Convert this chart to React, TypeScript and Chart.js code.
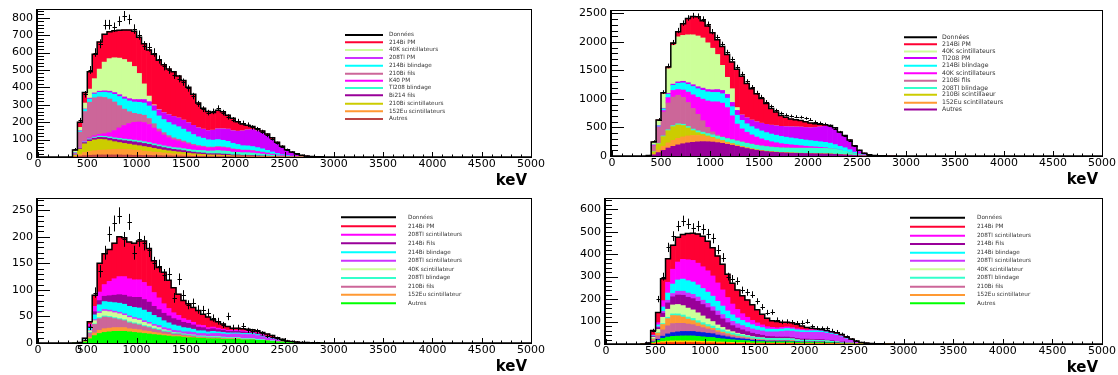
import React, { useEffect, useRef } from "react";
import { Chart, registerables } from "chart.js";

Chart.register(...registerables);

// ---------- binning & axes ----------
const BIN_START = 350; // keV, lower edge of first bin
const BIN_WIDTH = 50; // keV
const X_MAX = 5000;
const X_TICKS = [0, 500, 1000, 1500, 2000, 2500, 3000, 3500, 4000, 4500, 5000];
const P1_Y_TICKS = [0, 100, 200, 300, 400, 500, 600, 700, 800];
const P2_Y_TICKS = [0, 500, 1000, 1500, 2000, 2500];
const P3_Y_TICKS = [0, 50, 100, 150, 200, 250];
const P4_Y_TICKS = [0, 100, 200, 300, 400, 500, 600];

// ---------- colours ----------
const C_RED = "#ff0033";
const C_LGREEN = "#ccff99";
const C_VIOLET = "#cc00ff";
const C_VIOLET2 = "#cc33ff";
const C_CYAN = "#00ffff";
const C_MAGENTA = "#ff00ff";
const C_PINK = "#cc6699";
const C_AQUA = "#33ffcc";
const C_PURPLE = "#990099";
const C_OLIVE = "#cccc00";
const C_ORANGE = "#ff9933";
const C_BROWN = "#bb4444";
const C_GREEN = "#00ff00";
const C_BLUE = "#0022dd";
const C_MISC_RED = "#ff2200";
const C_MISC_YELLOW = "#ffcc00";

// ---------- panel 1 (top left), bins 350-400 ... 2850-2900 keV ----------
const P1_AUTRES = [2,5,8,10,11,12,12,12,12,12, 11,11,10,10,9,9,8,8,7,7, 6,6,5,5,4,4,4,3,3,3, 3,3,2,2,2,2,2,2,1,1, 1,1,0,0,0,0,0,0,0,0, 0];
const P1_EU152 = [3,10,18,22,25,27,28,30,32,33, 33,32,30,28,25,22,20,18,16,14, 12,11,10,8,7,6,5,4,4,4, 3,3,2,2,2,2,1,1,1,1, 0,0,0,0,0,0,0,0,0,0, 0];
const P1_BI210_SCINT = [5,30,50,58,62,63,60,52,44,38, 34,31,29,27,26,25,22,19,17,15, 14,12,11,9,8,7,6,5,5,5, 4,4,3,3,2,2,2,1,1,1, 0,0,0,0,0,0,0,0,0,0, 0];
const P1_BI214_FILS = [1,4,7,9,10,11,12,13,14,15, 16,17,18,18,18,17,16,15,14,13, 12,12,11,10,9,8,8,7,7,7, 7,6,5,5,4,4,4,3,3,2, 2,1,1,0,0,0,0,0,0,0, 0];
const P1_TL208_BLINDAGE = [1,2,4,5,6,7,7,8,8,9, 9,9,10,10,10,10,10,10,10,10, 10,11,11,12,12,13,14,15,16,18, 18,17,16,15,15,15,14,13,11,9, 7,5,3,2,1,1,0,0,0,0, 0];
const P1_K40_PM = [0,2,4,6,8,10,15,25,42,60, 78,92,102,108,110,104,90,75,62,52, 45,40,35,30,26,22,20,18,18,19, 19,18,16,14,13,13,12,11,10,8, 6,4,3,2,1,1,0,0,0,0, 0];
const P1_BI210_FILS = [10,90,170,205,218,215,208,193,164,128, 94,68,52,45,42,34,25,16,14,12, 11,10,9,8,7,6,5,5,4,4, 4,3,3,3,2,2,2,2,1,1, 1,0,0,0,0,0,0,0,0,0, 0];
const P1_BI214_BLINDAGE = [2,6,12,18,22,26,30,36,44,52, 58,62,65,68,70,72,74,75,75,75, 75,72,68,62,56,50,46,42,40,40, 38,36,32,28,25,24,23,21,19,15, 12,9,6,4,3,2,1,1,0,0, 0];
const P1_TL208_PM = [1,2,3,5,6,7,8,9,10,11, 12,13,14,16,20,25,30,35,40,45, 48,50,52,53,53,52,52,53,57,62, 66,70,72,76,85,92,98,96,92,84, 72,58,43,30,20,12,7,4,2,1, 1];
const P1_K40_SCINT = [10,19,34,52,82,127,165,187,200,210, 215,210,190,150,90,32,5,2,1,0, 0,0,0,0,0,0,0,0,0,0, 0,0,0,0,0,0,0,0,0,0, 0,0,0,0,0,0,0,0,0,0, 0];
const P1_BI214_PM = [5,30,60,100,140,155,160,155,155,160, 170,185,202,208,230,265,290,282,274,262, 257,241,228,203,178,142,120,110,101,106, 98,80,71,54,40,26,17,12,11,10, 9,7,6,4,3,2,2,1,1,1, 0];
const P1_DATA = [45,210,360,500,600,650,760,760,745,780, 810,790,735,700,640,630,600,560,520,500, 470,450,430,395,350,305,275,255,262,280, 255,230,215,205,195,185,170,160,145,125, 105,80,60,42,28,18,10,6,3,2, 1];

// ---------- panel 2 (top right) ----------
const P2_AUTRES = [2,20,60,100,140,170,195,215,230,240, 248,252,250,245,235,222,205,188,170,150, 132,115,100,88,78,70,64,58,54,50, 48,46,44,42,40,38,36,34,30,25, 20,15,10,6,3,2,1,1,0,0, 0];
const P2_EU152 = [1,15,45,70,90,105,115,120,122,120, 112,100,85,70,55,42,32,24,18,14, 11,9,7,6,5,4,4,3,3,3, 2,2,2,2,2,1,1,1,1,1, 0,0,0,0,0,0,0,0,0,0, 0];
const P2_BI210_SCINT = [3,40,110,170,215,240,235,200,140,85, 50,30,18,12,9,7,6,5,4,4, 3,3,2,2,2,2,1,1,1,1, 1,1,1,1,0,0,0,0,0,0, 0,0,0,0,0,0,0,0,0,0, 0];
const P2_TL208_BLINDAGE = [0,3,8,12,15,18,20,22,25,28, 32,36,40,45,50,56,62,68,72,76, 78,80,80,80,80,80,80,80,82,84, 86,88,90,92,94,96,96,94,88,76, 62,46,30,18,10,5,3,2,1,1, 0];
const P2_BI210_FILS = [2,100,280,420,470,500,500,470,420,360, 290,200,110,50,20,10,6,4,3,3, 2,2,2,2,1,1,1,1,1,1, 1,1,1,1,0,0,0,0,0,0, 0,0,0,0,0,0,0,0,0,0, 0];
const P2_K40_SCINT_B = [2,10,10,25,95,117,100,130,183,240, 298,379,462,528,581,590,538,416,293,228, 191,161,141,122,106,93,83,74,65,58, 51,43,34,28,24,18,13,6,1,0, 0,0,0,0,0,0,0,0,0,0, 0];
const P2_BI214_BLINDAGE = [0,5,15,30,60,90,110,125,135,145, 150,155,160,165,165,165,165,160,155,150, 148,145,143,140,138,135,132,128,124,120, 116,112,108,104,100,97,94,90,80,68, 63,49,28,10,4,1,0,0,0,0, 0];
const P2_TL208_PM = [0,2,5,10,15,20,25,28,30,32, 35,38,40,45,50,58,66,75,85,95, 105,115,125,135,145,155,165,175,185,195, 205,215,220,225,240,260,280,290,280,240, 210,165,110,65,33,12,6,2,2,1, 1];
const P2_K40_SCINT = [0,45,90,250,430,680,790,805,840,875, 890,880,820,730,615,440,300,240,50,0, 0,0,0,0,0,0,0,0,0,0, 0,0,0,0,0,0,0,0,0,0, 0,0,0,0,0,0,0,0,0,0, 0];
const P2_BI214_PM = [0,5,10,20,30,40,90,205,285,320, 335,300,295,270,260,330,400,470,670,680, 600,550,490,435,365,295,240,190,165,138, 125,114,100,83,65,45,28,20,15,10, 5,5,2,1,0,0,0,0,0,0, 0];
const P2_DATA = [15,260,640,1120,1580,1990,2200,2330,2420,2460, 2450,2400,2310,2180,2080,1960,1820,1700,1560,1440, 1310,1210,1110,1040,950,870,800,750,720,700, 690,680,660,640,600,580,560,530,480,420, 350,270,180,100,50,25,12,6,3,2, 1];

// ---------- panel 3 (bottom left) ----------
const P3_AUTRES = [0,0,2,8,14,18,20,21,22,22, 22,21,20,19,18,17,16,15,14,13, 12,12,11,10,10,9,9,8,8,8, 7,7,7,7,6,6,6,5,5,4, 3,2,2,1,1,1,0,0,0,0, 0];
const P3_EU152 = [0,0,1,3,5,6,7,7,7,7, 7,6,6,6,5,5,4,4,3,3, 2,2,2,2,1,1,1,1,1,1, 1,1,1,1,0,0,0,0,0,0, 0,0,0,0,0,0,0,0,0,0, 0];
const P3_BI210_FILS = [0,0,2,8,16,22,22,20,17,15, 13,11,10,9,8,7,6,5,4,4, 3,3,2,2,2,1,1,1,1,1, 1,0,0,0,0,0,0,0,0,0, 0,0,0,0,0,0,0,0,0,0, 0];
const P3_TL208_BLINDAGE = [0,0,0,1,1,2,2,2,2,2, 2,2,2,2,2,2,2,2,2,2, 2,2,2,2,2,2,2,2,2,2, 2,2,2,2,2,2,2,2,1,1, 1,1,0,0,0,0,0,0,0,0, 0];
const P3_K40_SCINT = [0,0,1,3,6,8,9,9,9,9, 8,8,7,7,6,5,4,3,2,1, 1,0,0,0,0,0,0,0,0,0, 0,0,0,0,0,0,0,0,0,0, 0,0,0,0,0,0,0,0,0,0, 0];
const P3_TL208_SCINT_V = [0,0,0,1,2,3,3,3,3,3, 3,3,3,3,3,3,3,4,4,4, 4,4,4,5,5,5,5,5,6,6, 6,6,7,7,8,8,8,7,6,5, 4,3,2,1,1,0,0,0,0,0, 0];
const P3_BI214_BLINDAGE = [0,0,1,4,9,13,15,15,16,17, 18,18,19,20,20,19,17,15,13,11, 10,9,8,7,6,5,5,4,4,3, 3,3,2,2,2,2,2,2,1,1, 1,0,0,0,0,0,0,0,0,0, 0];
const P3_BI214_FILS = [0,0,1,3,6,8,10,12,14,16, 17,18,19,20,20,19,17,15,14,13, 12,11,10,9,8,7,6,5,5,4, 4,3,3,3,3,2,2,2,2,1, 1,1,0,0,0,0,0,0,0,0, 0];
const P3_TL208_SCINT_M = [0,0,1,4,10,16,22,27,31,34, 35,34,33,33,32,30,26,22,18,14, 11,9,7,6,5,4,4,3,3,3, 2,2,2,2,2,2,1,1,1,1, 0,0,0,0,0,0,0,0,0,0, 0];
const P3_BI214_PM = [0,1,0,5,21,54,58,60,67,75, 73,69,69,73,78,71,60,57,59,53, 47,40,34,31,28,27,21,20,14,12, 10,7,4,4,4,4,4,4,4,4, 4,3,3,2,1,1,1,1,0,0, 0];
const P3_DATA = [0,1,6,30,95,135,170,205,225,240, 195,228,170,195,188,175,150,145,128,130, 85,120,90,72,75,63,62,57,47,41, 34,50,29,29,32,24,22,22,18,13, 12,9,6,4,3,2,2,1,1,1, 0];

// ---------- panel 4 (bottom right) ----------
const P4_MISC_RED = [0,0,2,4,5,6,6,6,6,6, 6,6,5,5,5,4,4,4,3,3, 3,3,2,2,2,2,2,2,2,2, 2,2,1,1,1,1,1,1,1,1, 0,0,0,0,0,0,0,0,0,0, 0];
const P4_MISC_YELLOW = [0,0,2,4,6,7,8,8,8,8, 8,7,7,6,6,5,5,4,4,3, 3,3,2,2,2,2,2,2,2,2, 2,1,1,1,1,1,1,1,1,1, 0,0,0,0,0,0,0,0,0,0, 0];
const P4_AUTRES = [0,1,4,8,14,18,20,21,22,22, 22,21,20,19,18,16,14,13,12,11, 10,9,8,7,7,6,6,6,6,6, 6,5,5,5,5,5,5,4,4,3, 3,2,2,1,1,0,0,0,0,0, 0];
const P4_BLUE = [0,0,2,5,10,14,17,19,20,20, 20,19,19,18,17,15,13,11,9,8, 7,6,5,4,4,3,3,3,3,3, 2,2,2,2,2,2,2,1,1,1, 1,0,0,0,0,0,0,0,0,0, 0];
const P4_BI210_FILS = [0,1,8,16,28,36,40,38,36,33, 30,26,22,19,16,13,11,9,8,7, 6,5,4,4,3,3,3,2,2,2, 2,2,1,1,1,1,1,1,0,0, 0,0,0,0,0,0,0,0,0,0, 0];
const P4_EU152 = [0,1,5,12,24,32,36,34,28,22, 18,15,12,10,8,7,6,5,4,3, 3,2,2,2,1,1,1,1,1,1, 1,0,0,0,0,0,0,0,0,0, 0,0,0,0,0,0,0,0,0,0, 0];
const P4_TL208_BLINDAGE = [0,0,1,2,4,6,7,8,9,9, 10,10,10,10,10,10,10,9,9,9, 8,8,8,8,8,8,8,8,8,8, 8,7,7,7,7,6,6,6,5,4, 3,2,2,1,1,0,0,0,0,0, 0];
const P4_K40_SCINT = [0,1,6,14,28,36,40,42,42,40, 38,35,30,25,20,15,11,8,6,4, 3,2,2,1,1,0,0,0,0,0, 0,0,0,0,0,0,0,0,0,0, 0,0,0,0,0,0,0,0,0,0, 0];
const P4_BI214_FILS = [0,0,3,8,18,28,36,42,46,48, 50,51,51,50,47,43,38,32,27,23, 20,17,15,13,11,9,8,7,7,7, 6,6,5,5,4,4,4,3,3,2, 2,1,1,0,0,0,0,0,0,0, 0];
const P4_TL208_SCINT_V = [0,0,1,4,8,12,15,17,18,19, 19,19,19,19,19,19,19,19,19,19, 19,19,19,19,19,20,21,23,25,27, 28,29,30,30,31,32,32,31,29,27, 23,18,12,7,4,2,1,1,0,0, 0];
const P4_BI214_BLINDAGE = [0,0,3,8,20,32,42,50,54,55, 55,54,52,50,47,43,38,33,29,26, 23,21,19,17,15,13,12,11,11,11, 10,9,8,7,7,7,6,6,5,4, 3,2,1,1,0,0,0,0,0,0, 0];
const P4_TL208_SCINT_M = [0,0,3,10,28,48,66,80,88,93, 96,97,97,95,90,82,72,60,48,38, 30,24,19,15,12,10,8,7,7,7, 6,5,5,4,4,4,4,3,3,2, 2,1,1,0,0,0,0,0,0,0, 0];
const P4_BI214_PM = [0,1,20,45,97,105,107,110,111,117, 121,130,136,132,125,120,114,103,92,86, 80,77,70,59,47,38,30,28,23,21, 22,20,15,11,7,5,3,3,3,5, 5,6,3,3,1,2,1,0,1,0, 0];
const P4_DATA = [0,4,60,200,300,430,480,525,548,535, 515,525,510,490,470,420,385,300,290,280, 240,230,220,190,165,140,142,108,98,100, 97,93,95,100,78,71,70,70,60,55, 44,33,22,14,7,4,2,1,1,0, 0];

// ---------- legends ----------
const P1_LEGEND = [
  { label: "Données", color: "#000000" },
  { label: "214Bi PM", color: C_RED },
  { label: "40K scintillateurs", color: C_LGREEN },
  { label: "208Tl PM", color: C_VIOLET2 },
  { label: "214Bi blindage", color: C_CYAN },
  { label: "210Bi fils", color: C_PINK },
  { label: "K40 PM", color: C_MAGENTA },
  { label: "Tl208 blindage", color: C_AQUA },
  { label: "Bi214 fils", color: C_PURPLE },
  { label: "210Bi scintillateurs", color: C_OLIVE },
  { label: "152Eu scintillateurs", color: C_ORANGE },
  { label: "Autres", color: C_BROWN },
];
const P2_LEGEND = [
  { label: "Données", color: "#000000" },
  { label: "214Bi PM", color: C_RED },
  { label: "40K scintillateurs", color: C_LGREEN },
  { label: "Tl208 PM", color: C_VIOLET },
  { label: "214Bi blindage", color: C_CYAN },
  { label: "40K scintillateurs", color: C_MAGENTA },
  { label: "210Bi fils", color: C_PINK },
  { label: "208Tl blindage", color: C_AQUA },
  { label: "210Bi scintillaeur", color: C_OLIVE },
  { label: "152Eu scintillateurs", color: C_ORANGE },
  { label: "Autres", color: C_PURPLE },
];
const P34_LEGEND = [
  { label: "Données", color: "#000000" },
  { label: "214Bi PM", color: C_RED },
  { label: "208Tl scintillateurs", color: C_MAGENTA },
  { label: "214Bi Fils", color: C_PURPLE },
  { label: "214Bi blindage", color: C_CYAN },
  { label: "208Tl scintillateurs", color: C_VIOLET2 },
  { label: "40K scintillateur", color: C_LGREEN },
  { label: "208Tl blindage", color: C_AQUA },
  { label: "210Bi fils", color: C_PINK },
  { label: "152Eu scintillateur", color: C_ORANGE },
  { label: "Autres", color: C_GREEN },
];

type Layer = { label: string; color: string; values: number[] };
type PanelDef = {
  canvas: { left: number; top: number; width: number; height: number };
  area: { left: number; right: number; top: number; bottom: number };
  layers: Layer[];
  data: number[];
  yMax: number;
  yTicks: number[];
  yMinor: number;
  legend: { entries: { label: string; color: string }[]; ys: number[]; x1: number; x2: number; tx: number; size: number };
  extraZero?: boolean;
};

const PANELS: PanelDef[] = [
  {
    canvas: { left: 0, top: 0, width: 560, height: 190 },
    area: { left: 38, right: 531, top: 9, bottom: 157 },
    layers: [
      { label: "Autres", color: C_BROWN, values: P1_AUTRES },
      { label: "152Eu scintillateurs", color: C_ORANGE, values: P1_EU152 },
      { label: "210Bi scintillateurs", color: C_OLIVE, values: P1_BI210_SCINT },
      { label: "Bi214 fils", color: C_PURPLE, values: P1_BI214_FILS },
      { label: "Tl208 blindage", color: C_AQUA, values: P1_TL208_BLINDAGE },
      { label: "K40 PM", color: C_MAGENTA, values: P1_K40_PM },
      { label: "210Bi fils", color: C_PINK, values: P1_BI210_FILS },
      { label: "214Bi blindage", color: C_CYAN, values: P1_BI214_BLINDAGE },
      { label: "208Tl PM", color: C_VIOLET, values: P1_TL208_PM },
      { label: "40K scintillateurs", color: C_LGREEN, values: P1_K40_SCINT },
      { label: "214Bi PM", color: C_RED, values: P1_BI214_PM },
    ],
    data: P1_DATA,
    yMax: 850,
    yTicks: P1_Y_TICKS,
    yMinor: 20,
    legend: { entries: P1_LEGEND, ys: [35, 42.3, 50, 58, 65.7, 73.7, 80.7, 88, 95.3, 103.7, 111.3, 119], x1: 345, x2: 383, tx: 389, size: 5.7 },
  },
  {
    canvas: { left: 560, top: 0, width: 558, height: 190 },
    area: { left: 612, right: 1102, top: 10, bottom: 156 },
    layers: [
      { label: "Autres", color: C_PURPLE, values: P2_AUTRES },
      { label: "152Eu scintillateurs", color: C_ORANGE, values: P2_EU152 },
      { label: "210Bi scintillaeur", color: C_OLIVE, values: P2_BI210_SCINT },
      { label: "208Tl blindage", color: C_AQUA, values: P2_TL208_BLINDAGE },
      { label: "210Bi fils", color: C_PINK, values: P2_BI210_FILS },
      { label: "40K scintillateurs (b)", color: C_MAGENTA, values: P2_K40_SCINT_B },
      { label: "214Bi blindage", color: C_CYAN, values: P2_BI214_BLINDAGE },
      { label: "Tl208 PM", color: C_VIOLET, values: P2_TL208_PM },
      { label: "40K scintillateurs", color: C_LGREEN, values: P2_K40_SCINT },
      { label: "214Bi PM", color: C_RED, values: P2_BI214_PM },
    ],
    data: P2_DATA,
    yMax: 2560,
    yTicks: P2_Y_TICKS,
    yMinor: 100,
    legend: { entries: P2_LEGEND, ys: [37.3, 44.3, 51.5, 58, 65.7, 73.3, 80.7, 88, 94.8, 102.8, 109.5], x1: 904, x2: 937, tx: 942, size: 6.2 },
  },
  {
    canvas: { left: 0, top: 190, width: 560, height: 185 },
    area: { left: 38, right: 531, top: 198, bottom: 343 },
    layers: [
      { label: "Autres", color: C_GREEN, values: P3_AUTRES },
      { label: "152Eu scintillateur", color: C_ORANGE, values: P3_EU152 },
      { label: "210Bi fils", color: C_PINK, values: P3_BI210_FILS },
      { label: "208Tl blindage", color: C_AQUA, values: P3_TL208_BLINDAGE },
      { label: "40K scintillateur", color: C_LGREEN, values: P3_K40_SCINT },
      { label: "208Tl scintillateurs (v)", color: C_VIOLET2, values: P3_TL208_SCINT_V },
      { label: "214Bi blindage", color: C_CYAN, values: P3_BI214_BLINDAGE },
      { label: "214Bi Fils", color: C_PURPLE, values: P3_BI214_FILS },
      { label: "208Tl scintillateurs", color: C_MAGENTA, values: P3_TL208_SCINT_M },
      { label: "214Bi PM", color: C_RED, values: P3_BI214_PM },
    ],
    data: P3_DATA,
    yMax: 273,
    yTicks: P3_Y_TICKS,
    yMinor: 10,
    legend: { entries: P34_LEGEND, ys: [217.3, 226.3, 234.7, 243.3, 252.3, 260.7, 269.3, 278, 286.7, 294.7, 303.3], x1: 341, x2: 396, tx: 408, size: 5.7 },
    extraZero: true,
  },
  {
    canvas: { left: 560, top: 190, width: 558, height: 185 },
    area: { left: 606, right: 1102, top: 198, bottom: 344 },
    layers: [
      { label: "misc 1", color: C_MISC_RED, values: P4_MISC_RED },
      { label: "misc 2", color: C_MISC_YELLOW, values: P4_MISC_YELLOW },
      { label: "Autres", color: C_GREEN, values: P4_AUTRES },
      { label: "misc 3", color: C_BLUE, values: P4_BLUE },
      { label: "210Bi fils", color: C_PINK, values: P4_BI210_FILS },
      { label: "152Eu scintillateur", color: C_ORANGE, values: P4_EU152 },
      { label: "208Tl blindage", color: C_AQUA, values: P4_TL208_BLINDAGE },
      { label: "40K scintillateur", color: C_LGREEN, values: P4_K40_SCINT },
      { label: "214Bi Fils", color: C_PURPLE, values: P4_BI214_FILS },
      { label: "208Tl scintillateurs (v)", color: C_VIOLET2, values: P4_TL208_SCINT_V },
      { label: "214Bi blindage", color: C_CYAN, values: P4_BI214_BLINDAGE },
      { label: "208Tl scintillateurs", color: C_MAGENTA, values: P4_TL208_SCINT_M },
      { label: "214Bi PM", color: C_RED, values: P4_BI214_PM },
    ],
    data: P4_DATA,
    yMax: 650,
    yTicks: P4_Y_TICKS,
    yMinor: 20,
    legend: { entries: P34_LEGEND, ys: [217.7, 226.7, 235.7, 244, 252.7, 260.7, 269.3, 277.7, 286.7, 295, 303.3], x1: 910, x2: 965, tx: 977, size: 5.7 },
  },
];

const FONT = "DejaVu Sans";

function makeRootPlugin(def: PanelDef) {
  return {
    id: "rootStyle",
    afterDatasetsDraw(chart: any) {
      const ctx = chart.ctx as CanvasRenderingContext2D;
      const a = chart.chartArea;
      const xs = chart.scales.x;
      const ys = chart.scales.y;
      const ox = def.canvas.left;
      const oy = def.canvas.top;
      ctx.save();

      // data points with error bars
      const meta = chart.getDatasetMeta(0);
      ctx.strokeStyle = "#000";
      ctx.lineWidth = 1;
      ctx.beginPath();
      meta.data.forEach((pt: any, i: number) => {
        const v = def.data[i];
        if (!(v > 0)) return;
        const e = Math.sqrt(v);
        const px = Math.round(pt.x) + 0.5;
        const y1 = Math.max(a.top, ys.getPixelForValue(v + e));
        const y2 = Math.min(a.bottom, ys.getPixelForValue(Math.max(0, v - e)));
        ctx.moveTo(px, y1);
        ctx.lineTo(px, y2);
        const py = Math.round(pt.y) + 0.5;
        ctx.moveTo(px - 2, py);
        ctx.lineTo(px + 2.5, py);
      });
      ctx.stroke();

      // frame
      ctx.strokeStyle = "#000";
      ctx.lineWidth = 1;
      ctx.strokeRect(a.left - 0.5, a.top + 0.5, a.right - a.left + 1, a.bottom - a.top);
      ctx.lineWidth = 2;
      ctx.beginPath();
      ctx.moveTo(a.left - 1, a.top);
      ctx.lineTo(a.left - 1, a.bottom + 1);
      ctx.stroke();

      // ticks (pointing inside)
      ctx.lineWidth = 1;
      ctx.beginPath();
      for (let v = 0; v <= def.yMax; v += def.yMinor) {
        const py = Math.round(ys.getPixelForValue(v)) + 0.5;
        const major = def.yTicks.includes(v);
        ctx.moveTo(a.left, py);
        ctx.lineTo(a.left + (major ? 12 : 6), py);
      }
      for (let v = 0; v <= X_MAX; v += 100) {
        const px = Math.round(xs.getPixelForValue(v)) + 0.5;
        const major = v % 500 === 0;
        ctx.moveTo(px, a.bottom);
        ctx.lineTo(px, a.bottom - (major ? 5 : 2.5));
      }
      ctx.stroke();

      // legend
      const L = def.legend;
      L.entries.forEach((en, i) => {
        const yy = L.ys[i] - oy;
        ctx.strokeStyle = en.color;
        ctx.lineWidth = 2;
        ctx.beginPath();
        ctx.moveTo(L.x1 - ox, yy);
        ctx.lineTo(L.x2 - ox, yy);
        ctx.stroke();
        ctx.fillStyle = "#333";
        ctx.font = `${L.size}px "${FONT}"`;
        ctx.textAlign = "left";
        ctx.textBaseline = "middle";
        ctx.fillText(en.label, L.tx - ox, yy);
      });

      // extra overlapping "0" label
      if (def.extraZero) {
        ctx.fillStyle = "#000";
        ctx.font = `11px "${FONT}"`;
        ctx.textAlign = "center";
        ctx.textBaseline = "middle";
        ctx.fillText("0", xs.getPixelForValue(500) - 9, a.bottom + 1 + 6.6);
      }

      // axis title
      ctx.fillStyle = "#000";
      ctx.font = `bold 15px "${FONT}"`;
      ctx.textAlign = "right";
      ctx.textBaseline = "alphabetic";
      ctx.fillText("keV", a.right - 4, a.bottom + 27.5);

      ctx.restore();
    },
  };
}

function Panel({ def }: { def: PanelDef }) {
  const ref = useRef<HTMLCanvasElement | null>(null);
  useEffect(() => {
    if (!ref.current) return;
    const c = def.canvas;
    const a = def.area;
    const n = def.data.length;
    const centers = def.data.map((_, i) => BIN_START + BIN_WIDTH * (i + 0.5));
    const totals = centers.map((_, i) => def.layers.reduce((s, l) => s + l.values[i], 0));
    const totalLine = [
      { x: 0, y: 0 },
      { x: BIN_START - BIN_WIDTH / 2, y: 0 },
      ...centers.map((x, i) => ({ x, y: totals[i] })),
      { x: centers[n - 1] + BIN_WIDTH, y: 0 },
      { x: X_MAX, y: 0 },
    ];
    const datasets: any[] = [
      {
        type: "line",
        label: "Données",
        data: centers.map((x, i) => ({ x, y: def.data[i] })),
        showLine: false,
        pointRadius: 0,
        stack: "data",
      },
      {
        type: "line",
        label: "MC total",
        data: totalLine,
        stepped: "middle",
        borderColor: "#000",
        borderWidth: 1.5,
        pointRadius: 0,
        fill: false,
        stack: "mc",
      },
      ...def.layers.map((l) => ({
        type: "bar",
        label: l.label,
        data: centers.map((x, i) => ({ x, y: l.values[i] })),
        backgroundColor: l.color,
        borderWidth: 0,
        barPercentage: 1,
        categoryPercentage: 1,
      })),
    ];
    const tickFont = { family: FONT, size: 11 };
    const chart = new Chart(ref.current, {
      type: "bar",
      data: { datasets },
      options: {
        animation: false,
        responsive: false,
        events: [],
        layout: {
          padding: { left: 0, top: a.top - c.top, right: c.left + c.width - a.right, bottom: 0 },
        },
        plugins: { legend: { display: false }, tooltip: { enabled: false } },
        scales: {
          x: {
            type: "linear",
            min: 0,
            max: X_MAX,
            offset: false,
            stacked: true,
            grid: { display: false, drawTicks: false },
            border: { display: false },
            ticks: { font: tickFont, color: "#000", padding: 1, maxRotation: 0, autoSkip: false, callback: (v: any) => String(v) },
            afterBuildTicks: (s: any) => {
              s.ticks = X_TICKS.map((v) => ({ value: v }));
            },
            afterFit: (s: any) => {
              s.height = c.top + c.height - a.bottom;
              s.paddingLeft = 0;
              s.paddingRight = 0;
            },
          },
          y: {
            type: "linear",
            min: 0,
            max: def.yMax,
            stacked: true,
            grid: { display: false, drawTicks: false },
            border: { display: false },
            ticks: { font: tickFont, color: "#000", padding: 5, autoSkip: false, callback: (v: any) => String(v) },
            afterBuildTicks: (s: any) => {
              s.ticks = def.yTicks.map((v) => ({ value: v }));
            },
            afterFit: (s: any) => {
              s.width = a.left - c.left;
              s.paddingTop = 0;
              s.paddingBottom = 0;
            },
          },
        },
      } as any,
      plugins: [makeRootPlugin(def)],
    });
    return () => chart.destroy();
  }, [def]);
  const c = def.canvas;
  return (
    <canvas
      ref={ref}
      width={c.width}
      height={c.height}
      style={{ position: "absolute", left: c.left, top: c.top, width: c.width, height: c.height }}
    />
  );
}

export default function App() {
  return (
    <div style={{ position: "absolute", left: 0, top: 0, width: 1118, height: 375, background: "#fff", overflow: "hidden" }}>
      {PANELS.map((p, i) => (
        <Panel key={i} def={p} />
      ))}
    </div>
  );
}
